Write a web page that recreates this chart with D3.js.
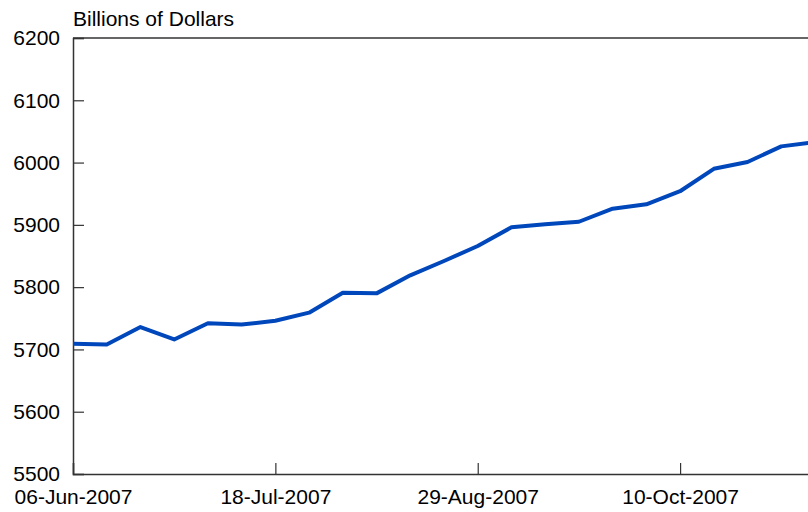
<!DOCTYPE html>
<html>
<head>
  <meta charset="UTF-8">
  <script src="https://d3js.org/d3.v7.min.js"></script>
  <style>
    body { margin: 0; background: #fff; }
    text { font-family: "Liberation Sans", Arial, sans-serif; fill: #000; }
  </style>
</head>
<body>
<script>
// weekly values, billions of dollars
var weeks = ["2007-06-06","2007-06-13","2007-06-20","2007-06-27","2007-07-04","2007-07-11",
  "2007-07-18","2007-07-25","2007-08-01","2007-08-08","2007-08-15","2007-08-22",
  "2007-08-29","2007-09-05","2007-09-12","2007-09-19","2007-09-26","2007-10-03",
  "2007-10-10","2007-10-17","2007-10-24","2007-10-31","2007-11-07"];
var values = [5709, 5708, 5736, 5716, 5742, 5740, 5746, 5759, 5791, 5790, 5819, 5842,
  5866, 5896, 5901, 5905, 5926, 5933, 5954, 5990, 6001, 6026, 6033];
var xTicks = ["2007-06-06","2007-07-18","2007-08-29","2007-10-10"];
var yTicks = [5500, 5600, 5700, 5800, 5900, 6000, 6100, 6200];

var W = 808, H = 512;
var parse = d3.timeParse("%Y-%m-%d");
var fmt = d3.timeFormat("%d-%b-%Y");
var data = weeks.map(function (d, i) { return { date: parse(d), value: values[i] }; });

var svg = d3.select("body").append("svg").attr("width", W).attr("height", H);

var x = d3.scaleTime()
  .domain([parse("2007-06-06"), parse("2007-11-07")])
  .range([73, 815]);
var y = d3.scaleLinear().domain([5500, 6200]).range([474, 38]);

// y axis, ticks inside
var ya = svg.append("g").attr("transform", "translate(73,0)")
  .call(d3.axisLeft(y).tickValues(yTicks).tickSize(-11).tickPadding(13).tickFormat(d3.format("d")));
ya.select(".domain").attr("stroke", "#333").attr("stroke-width", 1.5);
ya.selectAll(".tick line").attr("stroke", "#333").attr("stroke-width", 1.2);
ya.selectAll("text").style("font-size", "21px");

// x axis
var xa = svg.append("g").attr("transform", "translate(0,474)")
  .call(d3.axisBottom(x).tickValues(xTicks.map(parse)).tickSize(-11).tickPadding(15).tickFormat(fmt));
xa.select(".domain").attr("stroke", "#333").attr("stroke-width", 1.5);
xa.selectAll(".tick line").attr("stroke", "#333").attr("stroke-width", 1.2);
xa.selectAll("text").style("font-size", "21px");

// top frame line
svg.append("line")
  .attr("x1", 73).attr("x2", W)
  .attr("y1", y(6200)).attr("y2", y(6200))
  .attr("stroke", "#333").attr("stroke-width", 1.5);

// unit label
svg.append("text").attr("x", 73).attr("y", 26)
  .style("font-size", "21px").text("Billions of Dollars");

var line = d3.line()
  .x(function (d) { return x(d.date); })
  .y(function (d) { return y(d.value); });

svg.append("path").datum(data)
  .attr("d", line)
  .attr("fill", "none")
  .attr("stroke", "#0047BB")
  .attr("stroke-width", 4)
  .attr("stroke-linejoin", "round");
</script>
</body>
</html>
